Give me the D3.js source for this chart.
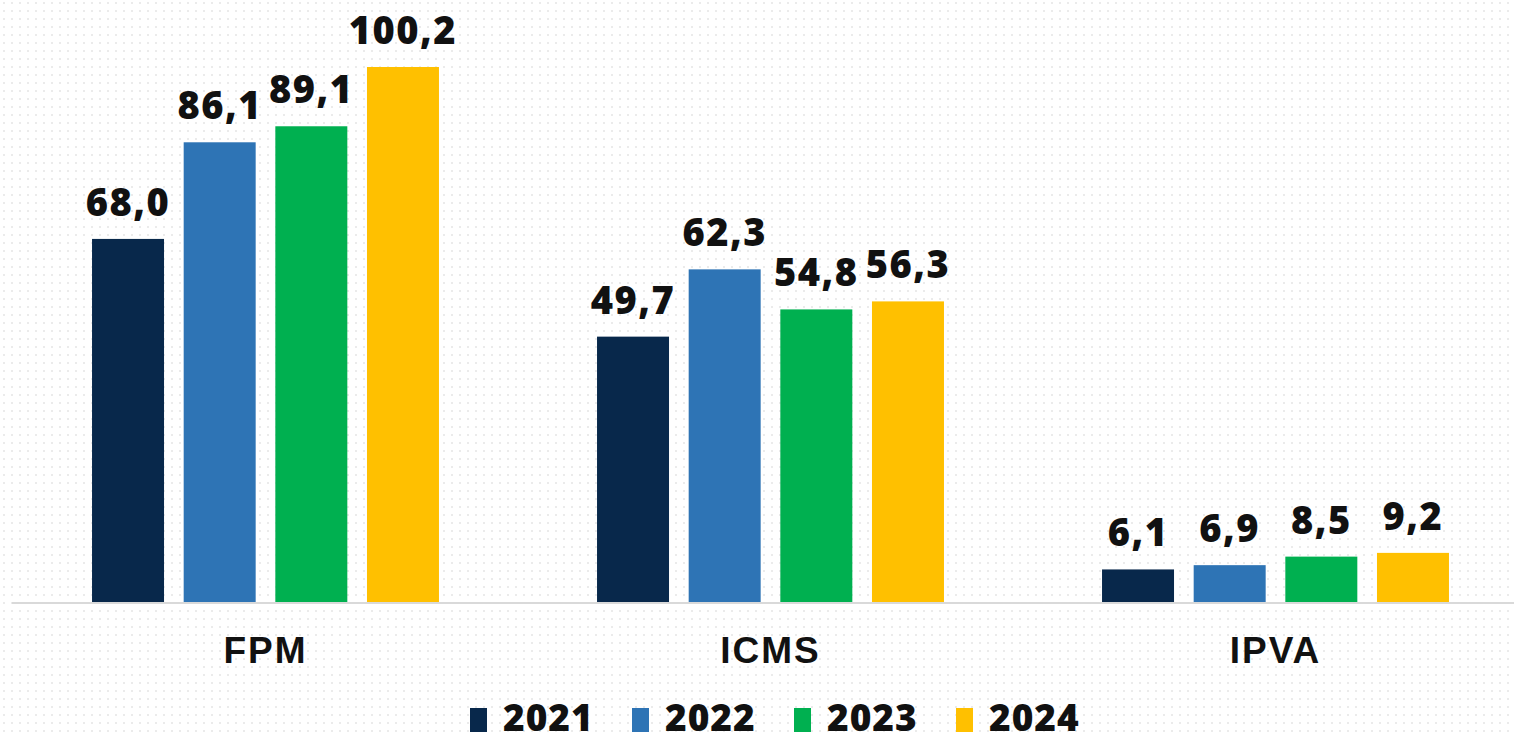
<!DOCTYPE html>
<html>
<head>
<meta charset="utf-8">
<script src="https://cdn.jsdelivr.net/npm/d3@7"></script>
<style>
  body { margin: 0; background: #fff; }
  svg { display: block; }
  .value { font-family: "Open Sans", sans-serif; font-weight: 800; font-size: 38px; letter-spacing: 1.5px; fill: #111; }
  .cat { font-family: "Liberation Sans", Arial, sans-serif; font-weight: 700; font-size: 37px; letter-spacing: 2px; fill: #111; }
  .legend text { font-family: "Open Sans", sans-serif; font-weight: 800; font-size: 37px; letter-spacing: 1px; fill: #111; }
</style>
</head>
<body>
<svg width="1514" height="736"></svg>
<script>
var categories = ["FPM", "ICMS", "IPVA"];
var years = ["2021", "2022", "2023", "2024"];
var values2021 = [68.0, 49.7, 6.1];
var values2022 = [86.1, 62.3, 6.9];
var values2023 = [89.1, 54.8, 8.5];
var values2024 = [100.2, 56.3, 9.2];
var colors = ["#08284b", "#2e74b5", "#00b050", "#ffc000"];

var series = [values2021, values2022, values2023, values2024];

var svg = d3.select("svg"),
    baseY = 602,
    topY = 67;

// dotted background
var defs = svg.append("defs");
defs.append("pattern")
    .attr("id", "dots")
    .attr("width", 8)
    .attr("height", 8)
    .attr("patternUnits", "userSpaceOnUse")
  .append("rect")
    .attr("x", 3).attr("y", 2)
    .attr("width", 2).attr("height", 2)
    .attr("fill", "#ebebeb");

svg.append("rect")
    .attr("width", 1514)
    .attr("height", 736)
    .attr("fill", "url(#dots)");

var x0 = d3.scaleBand()
    .domain(categories)
    .range([13, 1528])
    .paddingInner(0.313)
    .paddingOuter(0.1565);

var x1 = d3.scaleBand()
    .domain(years)
    .range([0, x0.bandwidth()])
    .paddingInner(0.2145)
    .paddingOuter(0);

var y = d3.scaleLinear()
    .domain([0, 100.2])
    .range([baseY, topY]);

var locale = d3.formatLocale({decimal: ",", thousands: ".", grouping: [3], currency: ["R$", ""]});
var fmt = locale.format(".1f");

var data = [];
categories.forEach(function(c, i) {
  years.forEach(function(yr, j) {
    data.push({cat: c, year: yr, value: series[j][i], color: colors[j]});
  });
});

var g = svg.append("g");

g.selectAll("rect.bar")
    .data(data)
  .enter().append("rect")
    .attr("class", "bar")
    .attr("x", function(d) { return x0(d.cat) + x1(d.year); })
    .attr("y", function(d) { return y(d.value); })
    .attr("width", x1.bandwidth())
    .attr("height", function(d) { return baseY - y(d.value); })
    .attr("fill", function(d) { return d.color; });

g.selectAll("text.value")
    .data(data)
  .enter().append("text")
    .attr("class", "value")
    .attr("x", function(d) { return x0(d.cat) + x1(d.year) + x1.bandwidth() / 2; })
    .attr("y", function(d) { return y(d.value) - 23; })
    .attr("text-anchor", "middle")
    .text(function(d) { return fmt(d.value); });

// baseline
svg.append("line")
    .attr("x1", 12).attr("x2", 1514)
    .attr("y1", baseY + 1).attr("y2", baseY + 1)
    .attr("stroke", "#d9d9d9")
    .attr("stroke-width", 2);

svg.selectAll("text.cat")
    .data(categories)
  .enter().append("text")
    .attr("class", "cat")
    .attr("x", function(d) { return x0(d) + x0.bandwidth() / 2; })
    .attr("y", 663)
    .attr("text-anchor", "middle")
    .text(function(d) { return d; });

// legend
var legend = svg.append("g").attr("class", "legend");
var step = 162;
years.forEach(function(yr, j) {
  var lx = 470 + j * step;
  legend.append("rect")
      .attr("x", lx).attr("y", 708)
      .attr("width", 17).attr("height", 24)
      .attr("fill", colors[j]);
  legend.append("text")
      .attr("x", lx + 33)
      .attr("y", 731)
      .text(yr);
});
</script>
</body>
</html>
